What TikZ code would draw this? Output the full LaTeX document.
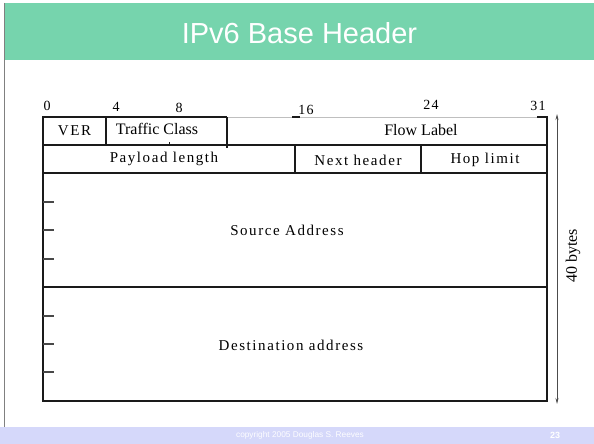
\documentclass[tikz,border=0pt]{standalone}
\usepackage{fontspec}
\setmainfont{Liberation Serif}
\newfontfamily\slidesans{Liberation Sans}
\newfontfamily\spaced{Liberation Serif}[LetterSpace=10.5]
\usetikzlibrary{arrows.meta}
\definecolor{titlegreen}{HTML}{76D4AD}
\definecolor{footerblue}{HTML}{D5D8FA}
\definecolor{ink}{HTML}{1A1A1A}

\tikzset{
  frame/.style={draw=ink, line width=1.2pt},
  faint/.style={draw=black!25, line width=0.8pt},
  tick/.style={draw=ink!80, line width=1.2pt},
  plain/.style={inner sep=0pt, font=\fontsize{16}{18}\selectfont},
  spacedlabel/.style={inner sep=0pt, font=\spaced\fontsize{15}{17}\selectfont},
  bitnum/.style={inner sep=0pt, font=\spaced\fontsize{14}{16}\selectfont},
  span/.style={draw=black!70, line width=0.7pt, {Stealth[length=6pt,width=3pt]}-{Stealth[length=6pt,width=3pt]}},
}

\begin{document}
\begin{tikzpicture}[x=1pt, y=-1pt]
\useasboundingbox (0,0) rectangle (594,444);

% slide frame: title bar, left rule and footer band
\fill[titlegreen] (5,3) rectangle (594,60);
\draw[black!50, line width=1.5pt] (4.5,3) -- (4.5,427);
\fill[footerblue] (0,427) rectangle (594,444);
\node[inner sep=0pt, text=white, font=\slidesans\fontsize{29}{32}\selectfont] (title) at (299.5,33) {IPv6 Base Header};
\node[inner sep=0pt, text=white!95!footerblue, font=\slidesans\fontsize{8.3}{10}\selectfont] (copy) at (300,435.5) {copyright 2005 Douglas S. Reeves};
\node[inner sep=0pt, text=white, font=\slidesans\bfseries\fontsize{9}{10}\selectfont] (page) at (555,435.5) {23};

% header outline and field borders
\draw[frame] (537,117) -- (547,117) -- (547,401) -- (43,401) -- (43,117) -- (227,117);
\draw[faint] (227,117) -- (537,117);
\draw[frame] (292,117) -- (300,117);
\draw[frame] (43,145) -- (547,145);
\draw[frame] (43,173) -- (547,173);
\draw[frame] (43,287) -- (547,287);
\draw[frame] (106,117) -- (106,145);
\draw[frame, line width=1.6pt] (227,117) -- (227,148);
\draw[frame] (295,145) -- (295,173);
\draw[frame] (421,145) -- (421,173);
\draw[ink, line width=0.8pt] (169,142) -- (169,145);

% word ticks on the address fields
\foreach \yy in {202,230,259,316,344,372}
  \draw[tick] (43,\yy) -- (54,\yy);

% bit positions
\node[bitnum] (b0)  at (47,106)  {0};
\node[bitnum] (b4)  at (116,107) {4};
\node[bitnum] (b8)  at (179,108) {8};
\node[bitnum] (b16) at (306,110) {16};
\node[bitnum] (b24) at (431,105) {24};
\node[bitnum] (b31) at (538,106) {31};

% field names
\node[spacedlabel] (ver)  at (74.5,131) {VER};
\node[plain]       (tc)   at (157,129)  {Traffic Class};
\node[plain]       (flow) at (421,130)  {Flow Label};
\node[spacedlabel] (plen) at (164,159)  {Payload length};
\node[spacedlabel] (next) at (358,160)  {Next header};
\node[spacedlabel] (hop)  at (485,160)  {Hop limit};
\node[spacedlabel] (src)  at (287,230)  {Source Address};
\node[spacedlabel] (dst)  at (291,345)  {Destination address};

% overall size
\coordinate (top) at (557,114);
\coordinate (bot) at (557,404);
\draw[span] (top) -- (bot);
\node[inner sep=0pt, rotate=90, font=\fontsize{16}{18}\selectfont] (size) at (573,256) {40 bytes};
\end{tikzpicture}
\end{document}
